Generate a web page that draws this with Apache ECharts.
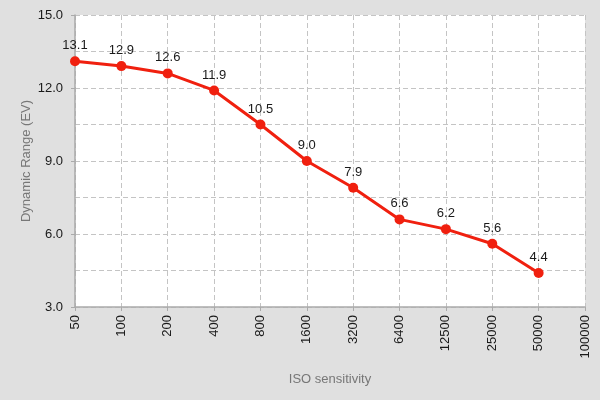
<!DOCTYPE html>
<html>
<head>
<meta charset="utf-8">
<script src="https://cdn.jsdelivr.net/npm/echarts@6/dist/echarts.min.js"></script>
<style>
  html, body { margin: 0; padding: 0; background: #e0e0e0; }
  #chart { width: 600px; height: 400px; }
</style>
</head>
<body>
<div id="chart"></div>
<script>
  const isoLabels = ['50', '100', '200', '400', '800', '1600', '3200', '6400', '12500', '25000', '50000', '100000'];
  const dynamicRange = [13.1, 12.9, 12.6, 11.9, 10.5, 9.0, 7.9, 6.6, 6.2, 5.6, 4.4, null];

  let myChart = echarts.init(document.getElementById('chart'));
  let option = {
    backgroundColor: '#e0e0e0',
    textStyle: { fontFamily: 'Liberation Sans, Arial, sans-serif' },
    grid: {
      left: 75, right: 15, top: 15, bottom: 93,
      show: true,
      backgroundColor: '#ffffff',
      borderWidth: 0
    },
    xAxis: {
      type: 'category',
      data: isoLabels,
      boundaryGap: false,
      name: 'ISO sensitivity',
      nameLocation: 'middle',
      nameGap: 66,
      nameTextStyle: { color: '#777', fontSize: 13 },
      axisLine: { lineStyle: { color: '#aaa', width: 1.5 } },
      axisTick: { show: true, alignWithLabel: true, length: 4, lineStyle: { color: '#aaa' } },
      axisLabel: { rotate: 90, color: '#1a1a1a', fontSize: 13, margin: 8 },
      splitLine: {
        show: true,
        lineStyle: { color: '#c4c4c4', type: [5, 3], width: 1 }
      }
    },
    yAxis: {
      type: 'value',
      min: 3,
      max: 15,
      interval: 3,
      name: 'Dynamic Range (EV)',
      nameLocation: 'middle',
      nameGap: 42,
      nameMoveOverlap: false,
      nameTextStyle: { color: '#777', fontSize: 13 },
      axisLine: { show: true, lineStyle: { color: '#aaa', width: 1.5 } },
      axisTick: { show: true, length: 4, lineStyle: { color: '#aaa' } },
      axisLabel: {
        color: '#1a1a1a', fontSize: 13, margin: 12,
        formatter: function (v) { return v.toFixed(1); }
      },
      splitLine: {
        show: true,
        lineStyle: { color: '#c4c4c4', type: [5, 3], width: 1 }
      },
      minorTick: { show: false, splitNumber: 2 },
      minorSplitLine: {
        show: true,
        lineStyle: { color: '#c4c4c4', type: [5, 3], width: 1 }
      }
    },
    series: [
      {
        name: 'Dynamic Range',
        type: 'line',
        data: dynamicRange,
        symbol: 'circle',
        symbolSize: 10,
        itemStyle: { color: '#f0200f' },
        lineStyle: { color: '#f0200f', width: 3 },
        label: {
          show: true,
          position: 'top',
          distance: 4,
          color: '#1a1a1a',
          fontSize: 13,
          formatter: function (p) { return p.value == null ? '' : p.value.toFixed(1); }
        },
        animation: false
      }
    ]
  };
  myChart.setOption(option);
  window.addEventListener('resize', function () { myChart.resize() });
</script>
</body>
</html>
